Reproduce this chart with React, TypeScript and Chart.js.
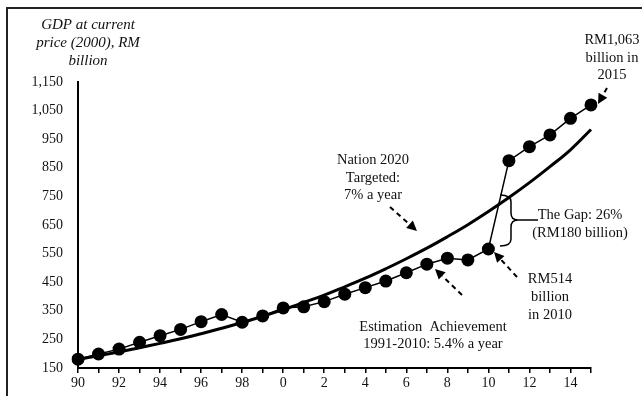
import React, { useEffect, useRef } from "react";
import { Chart, registerables } from "chart.js";

Chart.register(...registerables);

const years = [1990, 1991, 1992, 1993, 1994, 1995, 1996, 1997, 1998, 1999, 2000, 2001, 2002, 2003, 2004, 2005, 2006, 2007, 2008, 2009, 2010, 2011, 2012, 2013, 2014, 2015];
const xTickLabels = ["90", "", "92", "", "94", "", "96", "", "98", "", "0", "", "2", "", "4", "", "6", "", "8", "", "10", "", "12", "", "14", ""];
const achievement = [181, 199, 216, 240, 263, 285, 312, 337, 310, 332, 360, 364, 382, 408, 431, 454, 483, 513, 534, 528, 566, 875, 924, 965, 1023, 1070];
const target = [180, 193, 206, 221, 236, 252, 270, 289, 309, 331, 354, 379, 405, 434, 464, 497, 532, 569, 609, 651, 697, 746, 798, 854, 913, 984];
const yMin = 150;
const yMax = 1150;
const yStep = 100;

const FONT = '"Liberation Serif", "Times New Roman", serif';

function arrow(ctx: CanvasRenderingContext2D, x1: number, y1: number, x2: number, y2: number) {
  const ang = Math.atan2(y2 - y1, x2 - x1);
  const head = 10;
  const bx = x2 - Math.cos(ang) * head;
  const by = y2 - Math.sin(ang) * head;
  ctx.save();
  ctx.strokeStyle = "#000";
  ctx.fillStyle = "#000";
  ctx.lineWidth = 2;
  ctx.setLineDash([5, 4]);
  ctx.beginPath();
  ctx.moveTo(x1, y1);
  ctx.lineTo(bx, by);
  ctx.stroke();
  ctx.setLineDash([]);
  ctx.beginPath();
  ctx.moveTo(x2, y2);
  ctx.lineTo(bx + Math.cos(ang + Math.PI / 2) * 5, by + Math.sin(ang + Math.PI / 2) * 5);
  ctx.lineTo(bx + Math.cos(ang - Math.PI / 2) * 5, by + Math.sin(ang - Math.PI / 2) * 5);
  ctx.closePath();
  ctx.fill();
  ctx.restore();
}

function lines(ctx: CanvasRenderingContext2D, cx: number, ys: number[], texts: string[], font: string) {
  ctx.save();
  ctx.font = font;
  ctx.fillStyle = "#111";
  ctx.textAlign = "center";
  ctx.textBaseline = "middle";
  texts.forEach((t, i) => ctx.fillText(t, cx, ys[i]));
  ctx.restore();
}

const annotations = {
  id: "annotations",
  afterDraw(chart: any) {
    const ctx: CanvasRenderingContext2D = chart.ctx;
    // outer frame
    ctx.save();
    ctx.strokeStyle = "#222";
    ctx.lineWidth = 2;
    ctx.beginPath();
    ctx.moveTo(7, 400);
    ctx.lineTo(7, 8);
    ctx.lineTo(650, 8);
    ctx.stroke();
    ctx.restore();

    lines(ctx, 88, [25, 43, 61], ["GDP at current", "price (2000), RM", "billion"], `italic 15px ${FONT}`);
    const f = `14.5px ${FONT}`;
    lines(ctx, 373, [160, 178, 195], ["Nation 2020", "Targeted:", "7% a year"], f);
    arrow(ctx, 390, 207, 417, 231);
    lines(ctx, 433, [327, 344], ["Estimation  Achievement", "1991-2010: 5.4% a year"], f);
    arrow(ctx, 462, 295, 435, 269);
    lines(ctx, 550, [279, 297, 315], ["RM514", "billion", "in 2010"], f);
    arrow(ctx, 517, 277, 494, 252);
    lines(ctx, 580, [215, 233], ["The Gap: 26%", "(RM180 billion)"], f);
    lines(ctx, 612, [40, 58, 75], ["RM1,063", "billion in", "2015"], f);
    arrow(ctx, 607, 88, 598, 104);

    // brace
    ctx.save();
    ctx.strokeStyle = "#000";
    ctx.lineWidth = 1.5;
    ctx.beginPath();
    ctx.moveTo(500, 195);
    ctx.quadraticCurveTo(511, 195, 511, 202);
    ctx.lineTo(511, 213);
    ctx.quadraticCurveTo(511, 220, 518, 220);
    ctx.quadraticCurveTo(511, 220, 511, 227);
    ctx.lineTo(511, 239);
    ctx.quadraticCurveTo(511, 246, 500, 246);
    ctx.moveTo(518, 220);
    ctx.lineTo(538, 220);
    ctx.stroke();
    ctx.restore();
  },
};

export default function App() {
  const ref = useRef<HTMLCanvasElement | null>(null);
  useEffect(() => {
    if (!ref.current) return;
    const chart = new Chart(ref.current, {
      type: "line",
      data: {
        labels: years.map(String),
        datasets: [
          {
            label: "Target",
            data: target,
            borderColor: "#000",
            borderWidth: 3,
            pointRadius: 0,
            tension: 0.4,
            fill: false,
          },
          {
            label: "Achievement",
            data: achievement,
            borderColor: "#000",
            backgroundColor: "#000",
            borderWidth: 1.5,
            pointRadius: 6.5,
            pointBorderWidth: 0,
            pointBackgroundColor: "#000",
            tension: 0,
            fill: false,
          },
        ],
      },
      options: {
        animation: false,
        responsive: false,
        layout: { padding: { top: 82, right: 51, left: 0, bottom: 0 } },
        plugins: { legend: { display: false }, tooltip: { enabled: false } },
        scales: {
          x: {
            type: "category",
            offset: false,
            afterFit: (s: any) => { s.height = 28; },
            grid: { drawOnChartArea: false, drawTicks: true, tickLength: 5, color: "#000", lineWidth: 1.5 },
            border: { display: true, color: "#000", width: 2 },
            ticks: {
              autoSkip: false,
              maxRotation: 0,
              padding: 2,
              color: "#111",
              font: { family: FONT, size: 14 },
              callback: (_v: any, i: number) => xTickLabels[i],
            },
          },
          y: {
            min: yMin,
            max: yMax,
            afterFit: (s: any) => { s.width = 78; },
            grid: { drawOnChartArea: false, drawTicks: false },
            border: { display: true, color: "#000", width: 2 },
            ticks: {
              stepSize: yStep,
              padding: 15,
              color: "#111",
              font: { family: FONT, size: 14 },
              callback: (v: any) => Number(v).toLocaleString("en-US"),
            },
          },
        },
      },
      plugins: [annotations],
    });
    return () => chart.destroy();
  }, []);
  return (
    <div style={{ position: "fixed", left: 0, top: 0, width: 642, height: 396, background: "#fff" }}>
      <canvas ref={ref} width={642} height={396} style={{ width: 642, height: 396, display: "block" }} />
    </div>
  );
}
